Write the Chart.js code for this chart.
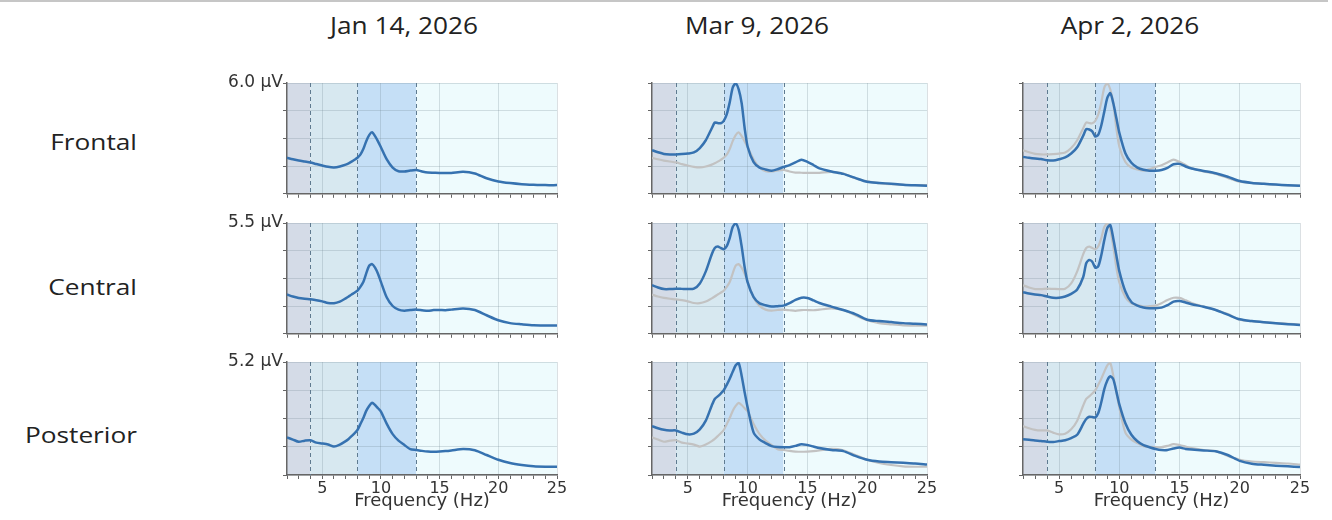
<!DOCTYPE html>
<html>
<head>
<meta charset="utf-8">
<script src="https://cdn.jsdelivr.net/npm/chart.js@4.4.1/dist/chart.umd.min.js"></script>
<style>
  html, body { margin: 0; padding: 0; background: #fff; }
  body { width: 1332px; height: 520px; position: relative; overflow: hidden; font-family: "Open Sans", sans-serif; }
  .topline { position: absolute; left: 0; top: 0; width: 1328px; height: 2px; background: #c6c6c6; }
  .title { position: absolute; top: 9px; font-size: 23px; line-height: 32px; color: #222; transform: translateX(-50%) scaleX(1.14); white-space: nowrap; }
  .region { position: absolute; left: 0; width: 137px; text-align: right; font-size: 21px; line-height: 28px; color: #222; transform-origin: right center; transform: translateY(-50%) scaleX(1.25); }
  .panel { position: absolute; }
</style>
</head>
<body>
<div class="topline"></div>
<div id="root"></div>
<script>
// frequency grid (Hz), finer around the alpha peak
const freqs = [2, 2.5, 3, 3.5, 4, 4.5, 5, 5.5, 6, 6.5, 7,
  7.25, 7.5, 7.75, 8, 8.25, 8.5, 8.75, 9, 9.25, 9.5, 9.75, 10,
  10.5, 11, 11.5, 12, 12.5, 13, 13.5, 14, 14.5, 15, 15.5, 16,
  17, 18, 19, 20, 21, 22, 23, 24, 25];

const sessions = ["Jan 14, 2026", "Mar 9, 2026", "Apr 2, 2026"];
const regions = ["Frontal", "Central", "Posterior"];
const rowMax = [6.0, 5.5, 5.2];
const xTickLabels = [5, 10, 15, 20, 25];
const bandEdges = [2, 4, 8, 13, 25];

// amplitude spectra (µV)
const janFrontal = [1.95, 1.87, 1.80, 1.75, 1.70, 1.61, 1.53, 1.46, 1.43, 1.48, 1.58,
  1.65, 1.74, 1.84, 1.95, 2.12, 2.42, 2.85, 3.18, 3.33, 3.12, 2.84, 2.52,
  1.86, 1.42, 1.22, 1.21, 1.26, 1.29, 1.21, 1.15, 1.14, 1.13, 1.13, 1.13,
  1.19, 1.10, 0.84, 0.67, 0.58, 0.52, 0.49, 0.47, 0.47];
const janCentral = [1.95, 1.85, 1.78, 1.74, 1.71, 1.67, 1.61, 1.53, 1.52, 1.60, 1.76,
  1.85, 1.95, 2.04, 2.14, 2.33, 2.57, 3.00, 3.38, 3.46, 3.28, 2.98, 2.58,
  1.80, 1.38, 1.20, 1.15, 1.18, 1.20, 1.17, 1.14, 1.18, 1.18, 1.17, 1.20,
  1.26, 1.18, 0.92, 0.67, 0.53, 0.47, 0.42, 0.41, 0.41];
const janPosterior = [1.73, 1.63, 1.53, 1.58, 1.60, 1.49, 1.45, 1.40, 1.31, 1.40, 1.56,
  1.66, 1.79, 1.92, 2.07, 2.34, 2.62, 2.95, 3.18, 3.32, 3.22, 3.07, 2.92,
  2.35, 1.88, 1.58, 1.38, 1.19, 1.15, 1.11, 1.08, 1.07, 1.08, 1.10, 1.13,
  1.20, 1.14, 0.92, 0.70, 0.55, 0.46, 0.40, 0.38, 0.38];

const marFrontal = [2.36, 2.25, 2.16, 2.13, 2.13, 2.15, 2.18, 2.24, 2.48, 2.90, 3.55,
  3.86, 3.83, 3.82, 3.95, 4.30, 4.95, 5.75, 5.98, 5.65, 4.90, 3.55, 2.55,
  1.72, 1.42, 1.32, 1.25, 1.33, 1.45, 1.55, 1.70, 1.85, 1.73, 1.56, 1.38,
  1.21, 1.08, 0.86, 0.65, 0.59, 0.54, 0.49, 0.46, 0.44];
const marCentral = [2.41, 2.30, 2.22, 2.22, 2.24, 2.23, 2.22, 2.24, 2.50, 3.10, 3.95,
  4.26, 4.33, 4.26, 4.20, 4.35, 4.75, 5.30, 5.48, 5.16, 4.33, 3.30, 2.55,
  1.82, 1.51, 1.42, 1.35, 1.37, 1.40, 1.52, 1.68, 1.79, 1.78, 1.66, 1.53,
  1.35, 1.18, 0.98, 0.70, 0.63, 0.58, 0.53, 0.50, 0.46];
const marPosterior = [2.25, 2.15, 2.08, 2.05, 2.05, 1.95, 1.87, 1.90, 2.10, 2.50, 3.20,
  3.50, 3.62, 3.75, 3.90, 4.15, 4.43, 4.75, 5.05, 5.15, 4.56, 3.80, 3.10,
  1.95, 1.63, 1.47, 1.33, 1.29, 1.28, 1.28, 1.34, 1.42, 1.38, 1.31, 1.24,
  1.15, 1.10, 0.88, 0.70, 0.62, 0.59, 0.56, 0.53, 0.48];

const aprFrontal = [2.00, 1.95, 1.91, 1.88, 1.82, 1.80, 1.87, 1.97, 2.18, 2.52, 3.15,
  3.50, 3.48, 3.38, 3.10, 3.20, 3.70, 4.45, 5.20, 5.45, 4.90, 4.10, 3.30,
  2.20, 1.68, 1.42, 1.30, 1.25, 1.25, 1.29, 1.40, 1.60, 1.62, 1.48, 1.37,
  1.24, 1.11, 0.92, 0.69, 0.59, 0.54, 0.50, 0.46, 0.43];
const aprCentral = [2.07, 2.00, 1.95, 1.92, 1.85, 1.79, 1.79, 1.85, 1.98, 2.20, 2.82,
  3.50, 3.66, 3.58, 3.28, 3.35, 3.90, 4.65, 5.25, 5.40, 4.72, 3.90, 3.10,
  2.10, 1.58, 1.40, 1.31, 1.27, 1.27, 1.30, 1.42, 1.60, 1.63, 1.55, 1.47,
  1.34, 1.18, 0.95, 0.72, 0.63, 0.57, 0.52, 0.48, 0.44];
const aprPosterior = [1.65, 1.62, 1.59, 1.57, 1.53, 1.52, 1.56, 1.60, 1.70, 1.85, 2.35,
  2.58, 2.68, 2.67, 2.65, 2.85, 3.35, 3.95, 4.35, 4.54, 4.40, 3.85, 3.25,
  2.38, 1.85, 1.55, 1.37, 1.28, 1.20, 1.15, 1.15, 1.22, 1.26, 1.20, 1.17,
  1.13, 1.09, 0.92, 0.65, 0.52, 0.47, 0.43, 0.40, 0.37];

// rows = regions, columns = sessions
const grid = [
  [janFrontal, marFrontal, aprFrontal],
  [janCentral, marCentral, aprCentral],
  [janPosterior, marPosterior, aprPosterior]
];

// layout (px)
const colLeft = [287, 652, 1023];
const colWidth = [270, 275, 277];
const rowTop = [83, 223, 362];
const plotH = 113;
const titleX = [404, 757, 1130];
const regionY = [142, 287, 435];
const AXIS_W = 80, PAD_T = 12, PAD_R = 14;

const bandColors = ["#d4dbe7", "#d7e8f0", "#c5dff6", "#eefbfd"];
const blue = "#3672b0";
const gray = "#c2c2c2";
const tickFont = { family: "DejaVu Sans", size: 16 };
const yLabelFont = { family: "DejaVu Sans", size: 17 };
const titleFont = { family: "DejaVu Sans", size: 18 };

const bandPlugin = {
  id: "bands",
  beforeDraw(chart) {
    const { ctx, chartArea: a, scales: { x } } = chart;
    ctx.save();
    for (let i = 0; i < bandEdges.length - 1; i++) {
      const x0 = x.getPixelForValue(bandEdges[i]);
      const x1 = x.getPixelForValue(bandEdges[i + 1]);
      ctx.fillStyle = bandColors[i];
      ctx.fillRect(x0, a.top, x1 - x0, a.bottom - a.top);
    }
    ctx.restore();
  },
  beforeDatasetsDraw(chart) {
    const { ctx, chartArea: a, scales: { x } } = chart;
    ctx.save();
    ctx.strokeStyle = "#5f7b90";
    ctx.lineWidth = 1;
    ctx.setLineDash([4, 3]);
    for (let i = 1; i < bandEdges.length - 1; i++) {
      const px = Math.round(x.getPixelForValue(bandEdges[i])) + 0.5;
      ctx.beginPath();
      ctx.moveTo(px, a.top);
      ctx.lineTo(px, a.bottom);
      ctx.stroke();
    }
    ctx.restore();
  }
};

const root = document.getElementById("root");

sessions.forEach((s, c) => {
  const t = document.createElement("div");
  t.className = "title";
  t.style.left = titleX[c] + "px";
  t.textContent = s;
  root.appendChild(t);
});
regions.forEach((r, i) => {
  const d = document.createElement("div");
  d.className = "region";
  d.style.top = regionY[i] + "px";
  d.textContent = r;
  root.appendChild(d);
});

for (let r = 0; r < 3; r++) {
  for (let c = 0; c < 3; c++) {
    const bottomRow = r === 2;
    const xH = bottomRow ? 39 : 8;
    const box = document.createElement("div");
    box.className = "panel";
    box.style.left = (colLeft[c] - AXIS_W) + "px";
    box.style.top = (rowTop[r] - PAD_T) + "px";
    box.style.width = (colWidth[c] + AXIS_W + PAD_R) + "px";
    box.style.height = (PAD_T + plotH + xH) + "px";
    const cv = document.createElement("canvas");
    box.appendChild(cv);
    root.appendChild(box);

    const datasets = [{
      data: freqs.map((f, i) => ({ x: f, y: grid[r][c][i] })),
      borderColor: blue,
      borderWidth: 2.5,
      pointRadius: 0,
      tension: 0.25,
      fill: false
    }];
    if (c > 0) {
      datasets.push({
        data: freqs.map((f, i) => ({ x: f, y: grid[r][c - 1][i] })),
        borderColor: gray,
        borderWidth: 2.2,
        pointRadius: 0,
        tension: 0.25,
        fill: false
      });
    }

    new Chart(cv, {
      type: "line",
      data: { datasets },
      options: {
        responsive: true,
        maintainAspectRatio: false,
        animation: false,
        events: [],
        layout: { padding: { top: PAD_T, right: PAD_R, left: 0, bottom: 0 } },
        scales: {
          x: {
            type: "linear",
            min: 2,
            max: 25,
            afterFit: s => { s.height = xH; },
            ticks: {
              stepSize: 1,
              autoSkip: false,
              maxRotation: 0,
              padding: 0,
              color: "#333",
              font: tickFont,
              callback: v => (bottomRow && xTickLabels.includes(v)) ? String(v) : ""
            },
            grid: {
              color: ctx => (ctx.tick && xTickLabels.includes(ctx.tick.value)) ? "rgba(110,130,145,0.25)" : "rgba(0,0,0,0)",
              tickColor: "#666",
              tickLength: 4
            },
            border: { display: true, color: "#666", width: 1.5 },
            title: {
              display: bottomRow,
              text: "Frequency (Hz)",
              color: "#333",
              font: titleFont,
              padding: { top: 0, bottom: 2 }
            }
          },
          y: {
            min: 0,
            max: rowMax[r],
            afterFit: s => { s.width = AXIS_W; },
            ticks: {
              count: 5,
              padding: 0,
              color: "#333",
              font: yLabelFont,
              callback: (v, i, ticks) => (c === 0 && i === ticks.length - 1) ? v.toFixed(1) + " µV" : ""
            },
            grid: {
              color: "rgba(110,130,145,0.25)",
              tickColor: "#666",
              tickLength: 4
            },
            border: { display: true, color: "#666", width: 1.5 }
          }
        },
        plugins: {
          legend: { display: false },
          tooltip: { enabled: false }
        }
      },
      plugins: [bandPlugin]
    });
  }
}
</script>
</body>
</html>
